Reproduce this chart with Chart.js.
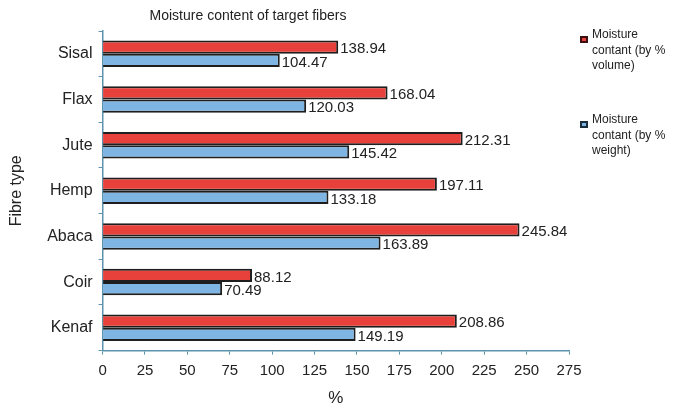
<!DOCTYPE html>
<html><head><meta charset="utf-8">
<script src="https://cdn.jsdelivr.net/npm/chart.js@4/dist/chart.umd.min.js"></script>
<style>html,body{margin:0;padding:0;background:#fff}#wrap{width:677px;height:412px}</style>
</head><body><div id="wrap"><canvas id="c" width="677" height="412"></canvas></div>
<script>
const categories = ["Sisal","Flax","Jute","Hemp","Abaca","Coir","Kenaf"];
const volumeValues = [138.94,168.04,212.31,197.11,245.84,88.12,208.86];
const weightValues = [104.47,120.03,145.42,133.18,163.89,70.49,149.19];
const seriesNames = [["Moisture","contant (by %","volume)"],["Moisture","contant (by %","weight)"]];
const chartTitle = "Moisture content of target fibers";
const FONT = "'Liberation Sans', Arial, sans-serif";
const AXIS = "#5d93ad";

const extras = {
  id: "extras",
  afterDatasetsDraw(chart) {
    const ctx = chart.ctx;
    ctx.save();
    ctx.font = "15px " + FONT;
    ctx.fillStyle = "#222";
    ctx.textBaseline = "middle";
    ctx.textAlign = "left";
    chart.data.datasets.forEach((ds, di) => {
      chart.getDatasetMeta(di).data.forEach((bar, i) => {
        ctx.fillText(ds.data[i].toFixed(2), bar.x + 2, bar.y + 2);
      });
    });
    // title
    ctx.font = "14px " + FONT;
    ctx.textAlign = "center";
    ctx.fillText(chartTitle, 248, 16);
    // legend
    ctx.font = "12px " + FONT;
    ctx.textAlign = "left";
    const colors = [["#e8403a","#3a1010"],["#7fb5e2","#1a2d3a"]];
    const tops = [35, 120];
    seriesNames.forEach((lines, k) => {
      ctx.fillStyle = colors[k][1];
      ctx.fillRect(580, tops[k] + 1, 8, 7);
      ctx.fillStyle = colors[k][0];
      ctx.fillRect(582, tops[k] + 3, 4, 3);
      ctx.fillStyle = "#222";
      lines.forEach((t, j) => ctx.fillText(t, 592, tops[k] + j * 15.5));
    });
    ctx.restore();
  }
};

new Chart(document.getElementById("c"), {
  type: "bar",
  data: {
    labels: categories,
    datasets: [
      { label: "Moisture contant (by % volume)", data: volumeValues, backgroundColor: "#e8403a", borderColor: "#1e1e1e", borderWidth: 2, categoryPercentage: 0.58, barPercentage: 1 },
      { label: "Moisture contant (by % weight)", data: weightValues, backgroundColor: "#7fb5e2", borderColor: "#1e1e1e", borderWidth: 2, categoryPercentage: 0.58, barPercentage: 1 }
    ]
  },
  options: {
    indexAxis: "y",
    responsive: false,
    animation: false,
    devicePixelRatio: 1,
    layout: { padding: { top: 31, right: 108, left: 7, bottom: 3 } },
    plugins: { legend: { display: false }, title: { display: false }, tooltip: { enabled: false } },
    scales: {
      x: {
        min: 0, max: 275,
        ticks: { stepSize: 25, color: "#222", font: { family: FONT, size: 15 }, padding: 7 },
        grid: { drawOnChartArea: false, color: AXIS, tickLength: 4 },
        border: { color: AXIS, width: 1.5 },
        title: { display: true, text: "%", color: "#222", font: { family: FONT, size: 17 }, padding: { top: 2, bottom: 0 } }
      },
      y: {
        ticks: { color: "#222", font: { family: FONT, size: 16 }, padding: 6 },
        grid: { drawOnChartArea: false, color: AXIS, tickLength: 4, offset: true },
        border: { color: AXIS, width: 1.5 },
        title: { display: true, text: "Fibre type", color: "#222", font: { family: FONT, size: 16 }, padding: { top: 0, bottom: 15 } }
      }
    }
  },
  plugins: [extras]
});
</script></body></html>
